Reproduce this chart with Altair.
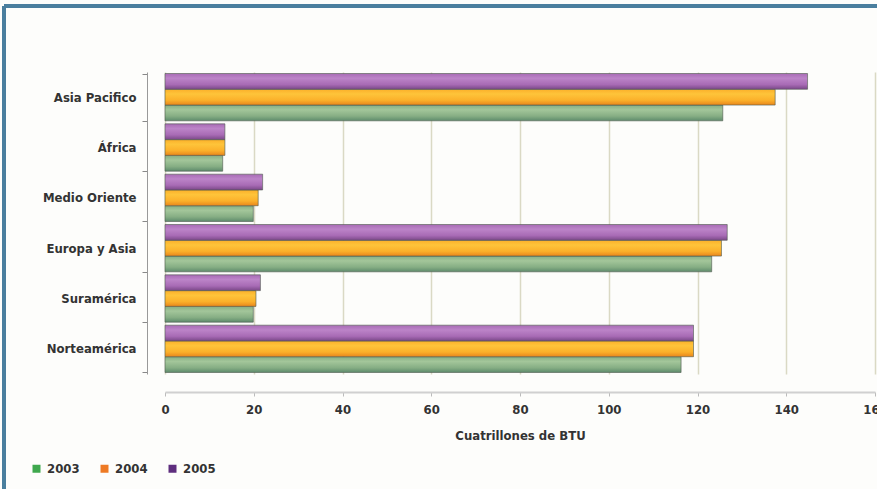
import altair as alt
import pandas as pd

# Energy consumption by region (quadrillion BTU)
regions = ["Asia Pacifico", "África", "Medio Oriente", "Europa y Asia", "Suramérica", "Norteamérica"]
years = ["2003", "2004", "2005"]
v2003 = [125.7, 13.0, 19.9, 123.2, 19.9, 116.3]
v2004 = [137.5, 13.5, 21.0, 125.4, 20.5, 119.1]
v2005 = [144.8, 13.5, 22.0, 126.7, 21.5, 119.1]
legend_colors = ["#3FA84E", "#EE7A24", "#5E2E7E"]

# Vertical shading of each series' bars (top light, bottom dark)
gradient_stops = {
    "2003": ["#A3C69A", "#86AE84", "#5E8B6C"],
    "2004": ["#FEC43A", "#FBB02A", "#E8861C"],
    "2005": ["#BC84C8", "#A86BB5", "#7A4888"],
}

rows = []
for series, vals in zip(years, [v2003, v2004, v2005]):
    for r, v in zip(regions, vals):
        rows.append({"region": r, "year": series, "value": v})
df = pd.DataFrame(rows)

FONT = "DejaVu Sans Condensed"

y_enc = alt.Y("region:N", sort=regions, title=None,
              scale=alt.Scale(paddingInner=0.06, paddingOuter=0.03),
              axis=alt.Axis(offset=18, tickBand="extent", tickSize=5, tickColor="#888",
                            domainColor="#999", labelPadding=6, labelFont=FONT,
                            labelFontWeight="bold", labelFontSize=13, labelColor="#333"))
yoff_enc = alt.YOffset("year:N", scale=alt.Scale(domain=["2005", "2004", "2003"]))
x_enc = alt.X("value:Q", title="Cuatrillones de BTU",
              scale=alt.Scale(domain=[0, 160], nice=False),
              axis=alt.Axis(values=list(range(0, 161, 20)), offset=18, grid=True,
                            gridColor="#DAD9C4", gridWidth=1.5, domainColor="#D0D0D0",
                            domainWidth=2, tickColor="#BBB", tickSize=4, labelPadding=7,
                            labelFont=FONT, labelFontWeight="bold", labelFontSize=13,
                            labelColor="#333", labelFlush=False, titleFont=FONT,
                            titleFontSize=13, titleFontWeight="bold", titleColor="#333",
                            titlePadding=13))

layers = []
for yr in years:
    c0, c1, c2 = gradient_stops[yr]
    grad = {"gradient": "linear", "x1": 0, "y1": 0, "x2": 0, "y2": 1,
            "stops": [{"offset": 0, "color": c1}, {"offset": 0.3, "color": c0},
                      {"offset": 0.7, "color": c1}, {"offset": 1, "color": c2}]}
    layers.append(
        alt.Chart(df).transform_filter(alt.datum.year == yr)
        .mark_bar(fill=grad, stroke="#4f5a4f", strokeWidth=1, strokeOpacity=0.6)
        .encode(y=y_enc, yOffset=yoff_enc, x=x_enc)
    )

# Legend only: an empty layer carrying the year colour scale
legend_layer = alt.Chart(df).transform_filter("false").mark_square().encode(
    color=alt.Color("year:N", title=None,
                    scale=alt.Scale(domain=years, range=legend_colors),
                    legend=alt.Legend(orient="none", legendX=-135, legendY=390,
                                      direction="horizontal", symbolType="square",
                                      symbolSize=64, symbolStrokeWidth=0, symbolOpacity=1,
                                      columnPadding=18, labelOffset=4, labelFont=FONT,
                                      labelFontSize=13, labelFontWeight="bold",
                                      labelColor="#333")),
)

# Blue frame along the top and left edges of the figure
frame_top = alt.Chart(df).mark_rule(color="#4A7F9E", strokeWidth=3, clip=False).encode(
    x=alt.value(-161), x2=alt.value(720), y=alt.value(-66))
frame_left = alt.Chart(df).mark_rule(color="#4A7F9E", strokeWidth=3, clip=False).encode(
    x=alt.value(-161), y=alt.value(-66), y2=alt.value(430))

chart = alt.layer(*layers, legend_layer, frame_top, frame_left).properties(
    width=710, height=302,
    autosize=alt.AutoSizeParams(type="none"),
    padding={"left": 165, "top": 72, "right": 2, "bottom": 115},
    background="#FDFDFB",
).configure_view(stroke=None)

chart.save("out.html", embed_options={"renderer": "svg", "actions": False})
